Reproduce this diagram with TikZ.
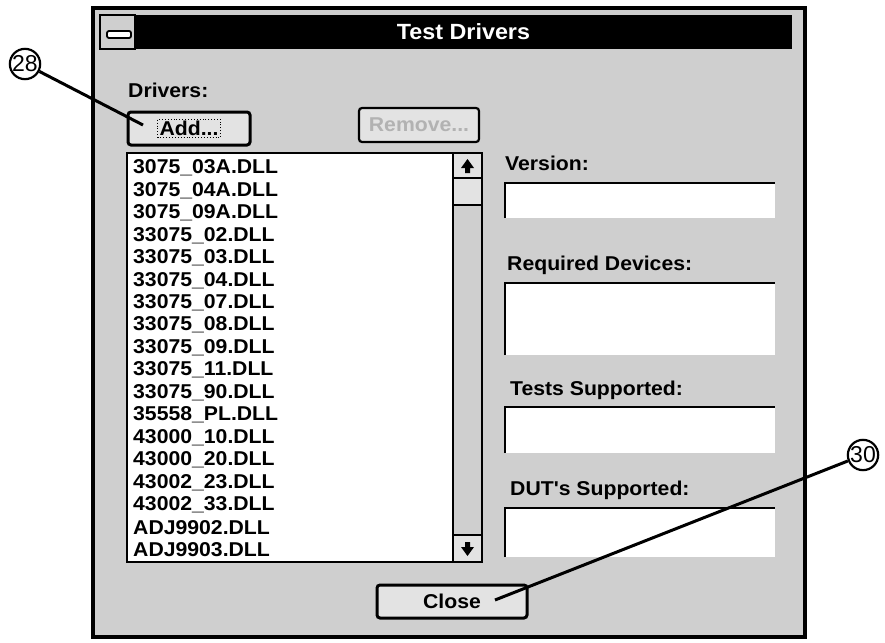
\documentclass[tikz,border=0pt]{standalone}
\usepackage{fontspec}
\newfontfamily\winfont[FakeStretch=1.06]{Liberation Sans}
\newfontfamily\tagfont{Liberation Sans}
\newcommand{\winsize}[1]{\winfont\bfseries\fontsize{#1}{#1}\selectfont}
\tikzset{
  button/.style={draw, line width=3pt, rounded corners=3pt, fill=gray!22, inner sep=0pt},
  focusbox/.style={draw, dotted, line width=0.9pt, inner sep=2pt, font=\winsize{20}},
  fieldname/.style={anchor=west, inner sep=0pt, font=\winsize{20}},
  dllname/.style={anchor=west, inner sep=0pt, font=\winsize{20}},
  partno/.style={circle, draw, fill=white, line width=2.2pt, minimum size=29pt, inner sep=0pt, font=\tagfont\fontsize{23}{23}\selectfont},
  leader/.style={line width=3pt}
}
\begin{document}
\begin{tikzpicture}[x=1pt,y=-1pt]
\useasboundingbox (0,0) rectangle (885,642);
% window, title bar
\draw[line width=3.5pt, fill=gray!38] (93,8) rectangle (805,637);
\draw[line width=1.2pt, fill=gray!38] (100,15) rectangle (135,49);
\draw[line width=1.8pt, fill=white, rounded corners=2pt] (107,31) rectangle (131,38);
\fill (135,15) rectangle (792,49);
\node[text=white, inner sep=0pt, font=\winsize{22}] (title) at (463.5,32) {Test Drivers};
\node[fieldname] (drivers) at (128,90) {Drivers:};
\node[button, minimum width=122pt, minimum height=33pt] (add) at (189,128.5) {};
\node[focusbox] (addtext) at (add) {Add...};
\node[button, minimum width=120pt, minimum height=34pt, line width=2.2pt, text=gray!60, font=\winsize{20}] (remove) at (419,125) {Remove...};
% list box with scroll bar
\draw[line width=2.5pt, fill=white] (127,153) rectangle (482,562);
\draw[line width=2pt, fill=gray!38] (453,153) rectangle (482,562);
\foreach \ya/\yb in {153/178, 178/205, 535/562} \draw[line width=2pt, fill=gray!22] (453,\ya) rectangle (482,\yb);
\fill (461,168) -- (467.5,159) -- (474,168) -- (470,168) -- (470,173) -- (465,173) -- (465,168) -- cycle;
\fill (461,547) -- (467.5,556) -- (474,547) -- (470,547) -- (470,542) -- (465,542) -- (465,547) -- cycle;
\foreach \f [count=\i from 0] in {3075\_03A.DLL, 3075\_04A.DLL, 3075\_09A.DLL, 33075\_02.DLL, 33075\_03.DLL, 33075\_04.DLL, 33075\_07.DLL, 33075\_08.DLL, 33075\_09.DLL, 33075\_11.DLL, 33075\_90.DLL, 35558\_PL.DLL, 43000\_10.DLL, 43000\_20.DLL, 43002\_23.DLL, 43002\_33.DLL, ADJ9902.DLL, ADJ9903.DLL}
  \node[dllname] (dll\i) at (133,{168+22.45*\i}) {\f};
% fields on the right
\node[fieldname] (version) at (505,163) {Version:};
\node[fieldname] (devices) at (507,265) {Required Devices:};
\node[fieldname] (tests) at (510,390) {Tests Supported:};
\node[fieldname] (duts) at (510,490) {DUT's Supported:};
\foreach \ya/\yb in {183/218, 283/355, 407/453, 508/557} {
  \fill[white] (505,\ya) rectangle (775,\yb);
  \draw[line width=2.5pt] (505,\yb) |- (775,\ya);
}
\node[button, minimum width=150pt, minimum height=33pt, font=\winsize{20}] (close) at (452,601.5) {Close};
% callouts
\node[partno] (p28) at (25,64) {28};
\node[partno] (p30) at (863,455) {30};
\coordinate (addtip) at (143,125);
\coordinate (closetip) at (495,600);
\draw[leader] (p28) -- (addtip);
\draw[leader] (p30) -- (closetip);
\end{tikzpicture}
\end{document}
